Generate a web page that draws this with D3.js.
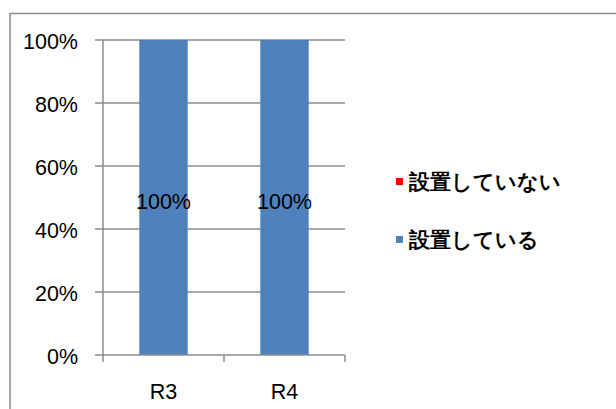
<!DOCTYPE html>
<html>
<head>
<meta charset="utf-8">
<script src="https://cdn.jsdelivr.net/npm/d3@7"></script>
<style>
  html, body { margin: 0; padding: 0; background: #fff; }
  svg { display: block; }
  text { font-family: "Liberation Sans", Arial, sans-serif; }
</style>
</head>
<body>
<script>
// Chart data
const categories = ["R3", "R4"];
const seriesNames = ["設置している", "設置していない"];
const installed = [1.0, 1.0];
const notInstalled = [0.0, 0.0];
const yTicks = [0, 0.2, 0.4, 0.6, 0.8, 1.0];
const seriesColors = ["#4f81bd", "#ff0000"];

const W = 616, H = 409;
const svg = d3.select("body").append("svg").attr("width", W).attr("height", H);

// Outer chart frame
svg.append("rect")
  .attr("x", 10).attr("y", 13.5).attr("width", W + 10).attr("height", H + 10)
  .attr("fill", "#fff").attr("stroke", "#8c8c8c").attr("stroke-width", 1.5);

const plot = { left: 103, right: 345, top: 40, bottom: 355 };

const x = d3.scaleBand().domain(categories)
  .range([plot.left, plot.right]).paddingInner(0.6).paddingOuter(0.3);
const y = d3.scaleLinear().domain([0, 1]).range([plot.bottom, plot.top]);

const gridColor = "#8c8c8c";
const labelSize = 21.5;

// Horizontal gridlines with left tick marks
svg.append("g").selectAll("line").data(yTicks.filter(d => d > 0)).join("line")
  .attr("x1", 95).attr("x2", plot.right)
  .attr("y1", d => y(d)).attr("y2", d => y(d))
  .attr("stroke", gridColor).attr("stroke-width", 1.5);

// Stacked bars
const stackData = categories.map((c, i) => ({ cat: c, "設置している": installed[i], "設置していない": notInstalled[i] }));
const stacked = d3.stack().keys(seriesNames)(stackData);

svg.append("g").selectAll("g").data(stacked).join("g")
  .attr("fill", (d, i) => seriesColors[i])
  .selectAll("rect").data(d => d).join("rect")
  .attr("x", d => x(d.data.cat))
  .attr("width", x.bandwidth())
  .attr("y", d => y(d[1]))
  .attr("height", d => y(d[0]) - y(d[1]));

// Y axis line
svg.append("line")
  .attr("x1", plot.left).attr("x2", plot.left)
  .attr("y1", plot.top).attr("y2", plot.bottom)
  .attr("stroke", gridColor).attr("stroke-width", 1.5);

// X axis line and ticks
svg.append("line")
  .attr("x1", 95).attr("x2", plot.right)
  .attr("y1", plot.bottom).attr("y2", plot.bottom)
  .attr("stroke", gridColor).attr("stroke-width", 1.5);
const xTickPos = [plot.left, ...categories.map(c => x(c) + x.bandwidth() / 2 + x.step() / 2)];
svg.append("g").selectAll("line").data(xTickPos).join("line")
  .attr("x1", d => d).attr("x2", d => d)
  .attr("y1", plot.bottom).attr("y2", plot.bottom + 7)
  .attr("stroke", gridColor).attr("stroke-width", 1.5);

// Y tick labels
svg.append("g").selectAll("text").data(yTicks).join("text")
  .attr("x", 78).attr("y", d => y(d) + 1)
  .attr("dy", "0.35em")
  .attr("text-anchor", "end")
  .attr("font-size", labelSize)
  .attr("fill", "#000")
  .text(d => d3.format(".0%")(d));

// X category labels
svg.append("g").selectAll("text").data(categories).join("text")
  .attr("x", d => x(d) + x.bandwidth() / 2).attr("y", 391)
  .attr("dy", "0.35em")
  .attr("text-anchor", "middle")
  .attr("font-size", labelSize)
  .attr("fill", "#000")
  .text(d => d);

// Value labels on bars
svg.append("g").selectAll("text").data(stacked[0]).join("text")
  .attr("x", d => x(d.data.cat) + x.bandwidth() / 2)
  .attr("y", d => (y(d[0]) + y(d[1])) / 2 + 3.5)
  .attr("dy", "0.35em")
  .attr("text-anchor", "middle")
  .attr("font-size", labelSize)
  .attr("fill", "#000")
  .text(d => d3.format(".0%")(d[1] - d[0]));

// Legend
const legendItems = [
  { name: seriesNames[1], color: seriesColors[1], cy: 182 },
  { name: seriesNames[0], color: seriesColors[0], cy: 240 }
];
const lg = svg.append("g").selectAll("g").data(legendItems).join("g");
lg.append("rect")
  .attr("x", 396).attr("y", d => d.cy - 4).attr("width", 7).attr("height", 7)
  .attr("fill", d => d.color);
lg.append("text")
  .attr("x", 409).attr("y", d => d.cy)
  .attr("dy", "0.35em")
  .attr("font-family", "'Noto Sans CJK JP', sans-serif")
  .attr("font-size", 20.5)
  .attr("font-weight", 700)
  .attr("fill", "#000")
  .text(d => d.name);
</script>
</body>
</html>
